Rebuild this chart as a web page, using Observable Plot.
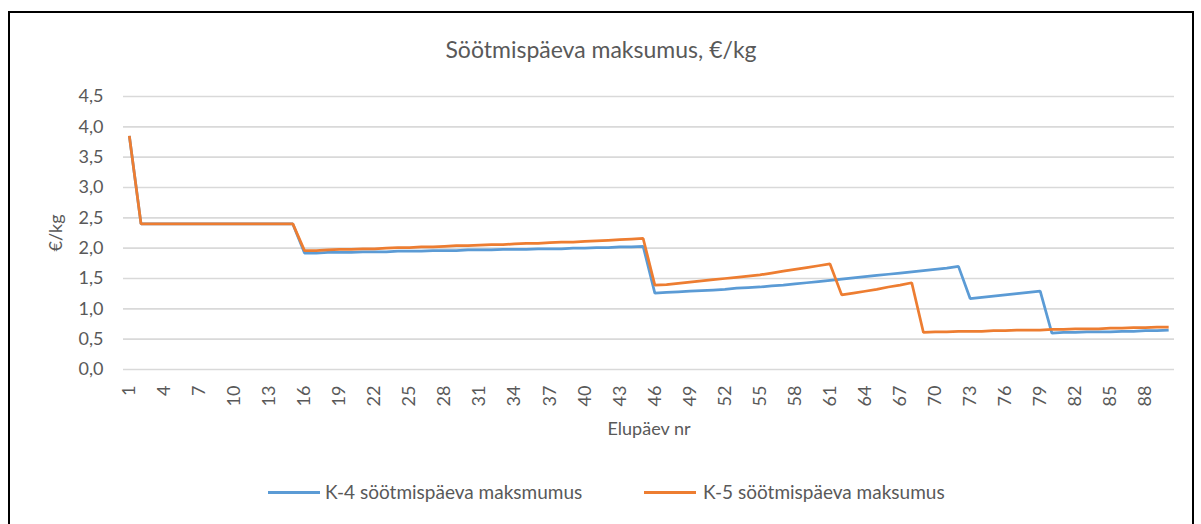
<!DOCTYPE html>
<html>
<head>
<meta charset="utf-8">
<script src="https://cdn.jsdelivr.net/npm/d3@7"></script>
<script src="https://cdn.jsdelivr.net/npm/@observablehq/plot@0.6"></script>
<style>
  body { margin: 0; background: #fff; font-family: Lato, "Liberation Sans", sans-serif; color: #595959; }
  #frame { position: absolute; left: 8px; top: 11px; width: 1186px; height: 600px; border: 2px solid #000; box-sizing: border-box; }
  #title { position: absolute; left: 8px; width: 1186px; top: 36px; text-align: center; font-size: 23px; line-height: 26px; }
  #chart { position: absolute; left: 0; top: 60px; }
  #legend { position: absolute; left: 0; top: 0; width: 1201px; height: 524px; pointer-events: none; }
  .lg-line { position: absolute; height: 3px; }
  .lg-text { position: absolute; font-size: 19px; line-height: 22px; white-space: nowrap; }
</style>
</head>
<body>
<div id="frame"></div>
<div id="title">Söötmispäeva maksumus, €/kg</div>
<div id="chart"></div>
<div id="legend"></div>
<script>
// ---- data ----
const days = d3.range(1, 91); // Elupäev nr 1..90 (categories)
const xTickLabels = [1, 4, 7, 10, 13, 16, 19, 22, 25, 28, 31, 34, 37, 40, 43, 46, 49, 52, 55, 58, 61, 64, 67, 70, 73, 76, 79, 82, 85, 88];
const yTickValues = [0, 0.5, 1, 1.5, 2, 2.5, 3, 3.5, 4, 4.5];
const seriesNames = ["K-4 söötmispäeva maksmumus", "K-5 söötmispäeva maksumus"];
const seriesColors = ["#5b9bd5", "#ed7d31"];

const k4 = [
  3.85,
  2.40, 2.40, 2.40, 2.40, 2.40, 2.40, 2.40, 2.40, 2.40, 2.40, 2.40, 2.40, 2.40, 2.40,
  1.92, 1.92, 1.93, 1.93, 1.93, 1.94, 1.94, 1.94, 1.95, 1.95, 1.95, 1.96, 1.96, 1.96, 1.97,
  1.97, 1.97, 1.98, 1.98, 1.98, 1.99, 1.99, 1.99, 2.00, 2.00, 2.01, 2.01, 2.02, 2.02, 2.03,
  1.26, 1.27, 1.28, 1.29, 1.30, 1.31, 1.32, 1.34, 1.35, 1.36, 1.38, 1.39, 1.41, 1.43, 1.45,
  1.47, 1.49, 1.51, 1.53, 1.55, 1.57, 1.59, 1.61, 1.63, 1.65, 1.67, 1.70,
  1.17, 1.19, 1.21, 1.23, 1.25, 1.27, 1.29,
  0.60, 0.61, 0.61, 0.62, 0.62, 0.62, 0.63, 0.63, 0.64, 0.64, 0.65
];
const k5 = [
  3.85,
  2.40, 2.40, 2.40, 2.40, 2.40, 2.40, 2.40, 2.40, 2.40, 2.40, 2.40, 2.40, 2.40, 2.40,
  1.96, 1.96, 1.97, 1.98, 1.98, 1.99, 1.99, 2.00, 2.01, 2.01, 2.02, 2.02, 2.03, 2.04, 2.04,
  2.05, 2.06, 2.06, 2.07, 2.08, 2.08, 2.09, 2.10, 2.10, 2.11, 2.12, 2.13, 2.14, 2.15, 2.16,
  1.39, 1.40, 1.42, 1.44, 1.46, 1.48, 1.50, 1.52, 1.54, 1.56, 1.59, 1.62, 1.65, 1.68, 1.71, 1.74,
  1.23, 1.26, 1.29, 1.32, 1.36, 1.39, 1.43,
  0.61, 0.62, 0.62, 0.63, 0.63, 0.63, 0.64, 0.64, 0.65, 0.65, 0.65,
  0.66, 0.66, 0.67, 0.67, 0.67, 0.68, 0.68, 0.69, 0.69, 0.70, 0.70
];

const rowsK4 = days.map((d, i) => ({day: d, v: k4[i]}));
const rowsK5 = days.map((d, i) => ({day: d, v: k5[i]}));
const fmt = d => d.toFixed(1).replace(".", ",");

const chart = Plot.plot({
  width: 1201,
  height: 400,
  marginLeft: 123,
  marginRight: 27,
  marginTop: 36,
  marginBottom: 91,
  style: {fontFamily: 'Lato, "Liberation Sans", sans-serif', fontSize: "18px", color: "#595959", background: "transparent", overflow: "visible"},
  x: {type: "point", domain: days, padding: 0.5},
  y: {domain: [0, 4.5]},
  marks: [
    Plot.gridY(yTickValues, {stroke: "#d9d9d9", strokeOpacity: 1, strokeWidth: 1.6}),
    Plot.axisY(yTickValues, {tickSize: 0, tickPadding: 20, tickFormat: fmt, fontSize: 18, fill: "#595959",
      label: "€/kg", labelAnchor: "center", labelArrow: "none", labelOffset: 74}),
    Plot.axisX(xTickLabels, {tickSize: 0, tickRotate: -90, tickPadding: 16, fontSize: 18, fill: "#595959",
      label: "Elupäev nr", labelAnchor: "center", labelArrow: "none", labelOffset: 65}),
    Plot.line(rowsK4, {x: "day", y: "v", stroke: seriesColors[0], strokeWidth: 2.75, strokeLinejoin: "miter", strokeLinecap: "butt"}),
    Plot.line(rowsK5, {x: "day", y: "v", stroke: seriesColors[1], strokeWidth: 2.75, strokeLinejoin: "miter", strokeLinecap: "butt"})
  ]
});
document.getElementById("chart").appendChild(chart);

// legend
const legendPos = [{line: 268, text: 325}, {line: 644, text: 703}];
const lg = document.getElementById("legend");
seriesNames.forEach((name, i) => {
  const l = document.createElement("div");
  l.className = "lg-line";
  l.style.left = legendPos[i].line + "px";
  l.style.width = "52px";
  l.style.top = "491px";
  l.style.background = seriesColors[i];
  lg.appendChild(l);
  const t = document.createElement("div");
  t.className = "lg-text";
  t.style.left = legendPos[i].text + "px";
  t.style.top = "481px";
  t.textContent = name;
  lg.appendChild(t);
});
</script>
</body>
</html>
